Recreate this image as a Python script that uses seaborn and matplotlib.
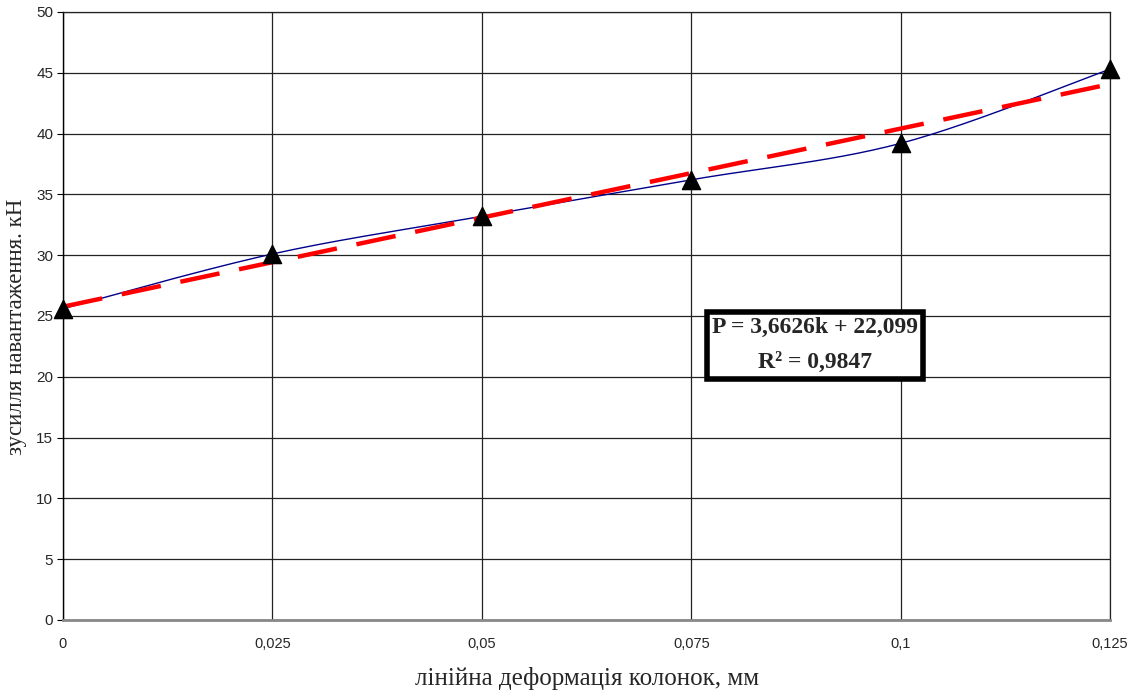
import numpy as np
import pandas as pd
import matplotlib
matplotlib.use("Agg")
import matplotlib.pyplot as plt
import seaborn as sns

# ---- data ----
deformation = [0, 0.025, 0.05, 0.075, 0.1, 0.125]
load = [25.6, 30.1, 33.2, 36.2, 39.2, 45.3]
trend_slope = 3.6626
trend_intercept = 22.099
r_squared = 0.9847
x_ticks = [0, 0.025, 0.05, 0.075, 0.1, 0.125]
x_tick_labels = ["0", "0,025", "0,05", "0,075", "0,1", "0,125"]
y_ticks = [0, 5, 10, 15, 20, 25, 30, 35, 40, 45, 50]

sns.set_theme(style="white")
plt.rcParams['font.family'] = ['Liberation Sans', 'DejaVu Sans']

fig = plt.figure(figsize=(11.37, 6.97), dpi=100)
ax = fig.add_axes([0.0554, 0.1105, 0.921, 0.8723])

# Excel-like smoothed line (cubic Bezier, Catmull-Rom control points) in normalized coords
xs = np.array(deformation) / 0.125
ys = np.array(load) / 50.0
n = len(xs)
cx, cy = [], []
t = np.linspace(0, 1, 30)
for i in range(n - 1):
    p0 = np.array([xs[i], ys[i]])
    p3 = np.array([xs[i + 1], ys[i + 1]])
    pm = np.array([xs[max(i - 1, 0)], ys[max(i - 1, 0)]])
    pp = np.array([xs[min(i + 2, n - 1)], ys[min(i + 2, n - 1)]])
    c1 = p0 + (p3 - pm) / 6.0
    c2 = p3 - (pp - p0) / 6.0
    seg = ((1 - t) ** 3)[:, None] * p0 + (3 * (1 - t) ** 2 * t)[:, None] * c1 \
        + (3 * (1 - t) * t ** 2)[:, None] * c2 + (t ** 3)[:, None] * p3
    cx.extend(seg[:, 0] * 0.125)
    cy.extend(seg[:, 1] * 50.0)
smooth = pd.DataFrame({"x": cx, "y": cy})
sns.lineplot(data=smooth, x="x", y="y", sort=False, color="#00008B", lw=1.0, ax=ax, zorder=3)

# linear trend line (as a function of point index k = 1..n)
k = np.arange(1, n + 1)
trend = pd.DataFrame({"x": deformation, "y": trend_slope * k + trend_intercept})
sns.lineplot(data=trend, x="x", y="y", color="#FF0000", lw=3.2, ax=ax, zorder=4,
             dashes=False)
ax.lines[-1].set_dashes([9, 4.5])

pts = pd.DataFrame({"x": deformation, "y": load})
sns.scatterplot(data=pts, x="x", y="y", marker="^", s=170, color="black",
                edgecolor="black", ax=ax, zorder=5, clip_on=False)

ax.set_xlim(0, 0.125)
ax.set_ylim(0, 50)
ax.set_xticks(x_ticks)
ax.set_xticklabels(x_tick_labels)
ax.set_yticks(y_ticks)
ax.grid(True, color="#222222", lw=0.9)
ax.set_axisbelow(True)
for s in ["top", "right"]:
    ax.spines[s].set_color("#222222")
    ax.spines[s].set_linewidth(0.9)
ax.spines["left"].set_color("black")
ax.spines["left"].set_linewidth(1.0)
ax.spines["bottom"].set_color("#888888")
ax.spines["bottom"].set_linewidth(2.0)
ax.tick_params(axis="y", direction="out", length=4, width=0.8, color="black",
               labelsize=11, pad=3, left=True)
ax.tick_params(axis="x", direction="out", length=0, labelsize=10.5, pad=12, bottom=True)

ax.set_xlabel("лінійна деформація колонок, мм", fontfamily="Liberation Serif",
              fontsize=18, labelpad=12)
ax.set_ylabel("зусилля навантаження. кН", fontfamily="Liberation Serif",
              fontsize=16.5)
ax.yaxis.set_label_coords(-0.0344, 0.482)

eq = "P = 3,6626k + 22,099\nR² = 0,9847"
ax.text(0.0898, 22.6, eq, fontfamily="Liberation Serif", fontweight="bold",
        fontsize=17, ha="center", va="center", linespacing=1.9, zorder=6,
        bbox=dict(boxstyle="square,pad=0.22", facecolor="white", edgecolor="black", lw=4))

fig.savefig("out.png", dpi=100)
